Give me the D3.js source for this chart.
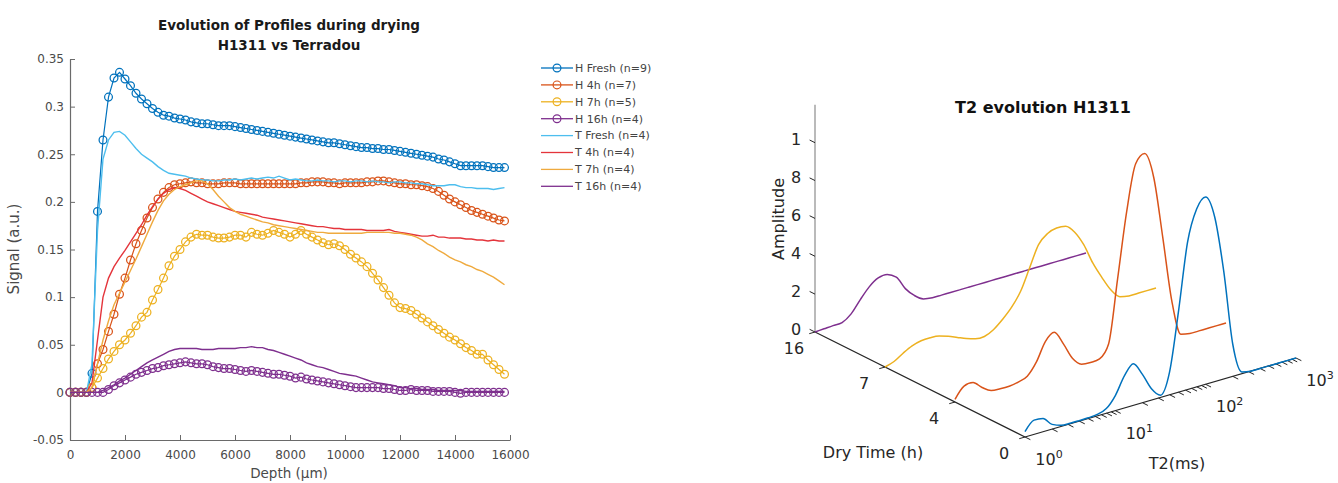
<!DOCTYPE html>
<html><head><meta charset="utf-8">
<script src="https://cdn.jsdelivr.net/npm/d3@7"></script>
<style>
body{margin:0;background:#fff;}
svg{display:block;}
text{font-family:"DejaVu Sans",sans-serif;}
</style>
</head><body>
<svg id="c" width="1338" height="483"></svg>
<script>
// ---------------- LEFT CHART DATA ----------------
const depth = [0,200,400,600,800,1000,1200,1400,1600,1800,2000,2200,2400,2600,2800,3000,3200,3400,3600,3800,
4000,4200,4400,4600,4800,5000,5200,5400,5600,5800,6000,6200,6400,6600,6800,7000,7200,7400,7600,7800,
8000,8200,8400,8600,8800,9000,9200,9400,9600,9800,10000,10200,10400,10600,10800,11000,11200,11400,11600,11800,
12000,12200,12400,12600,12800,13000,13200,13400,13600,13800,14000,14200,14400,14600,14800,15000,15200,15400,15600,15800];

const hFresh = [0,0,0,0,0.02,0.19,0.265,0.31,0.33,0.336,0.329,0.322,0.314,0.308,0.303,0.298,0.294,0.291,0.290,0.288,
0.287,0.286,0.284,0.283,0.282,0.282,0.281,0.280,0.280,0.280,0.279,0.278,0.277,0.276,0.275,0.274,0.273,0.272,0.271,0.270,
0.269,0.268,0.267,0.266,0.265,0.264,0.263,0.262,0.262,0.261,0.260,0.259,0.258,0.257,0.257,0.256,0.256,0.255,0.255,0.254,
0.253,0.252,0.251,0.250,0.249,0.248,0.247,0.245,0.244,0.242,0.240,0.238,0.238,0.238,0.238,0.238,0.237,0.236,0.236,0.236];

const h4h = [0,0,0,0,0.005,0.03,0.045,0.064,0.082,0.103,0.12,0.139,0.156,0.17,0.183,0.194,0.203,0.21,0.215,0.218,
0.219,0.220,0.221,0.220,0.220,0.219,0.219,0.219,0.220,0.220,0.220,0.219,0.219,0.219,0.219,0.219,0.219,0.219,0.219,0.219,
0.219,0.219,0.220,0.220,0.221,0.221,0.221,0.220,0.220,0.219,0.220,0.220,0.220,0.220,0.221,0.221,0.222,0.222,0.221,0.220,
0.219,0.219,0.218,0.218,0.217,0.216,0.214,0.211,0.207,0.203,0.200,0.197,0.194,0.191,0.189,0.187,0.185,0.183,0.181,0.180];

const h7h = [0,0,0,0,0.005,0.015,0.025,0.035,0.043,0.05,0.055,0.062,0.07,0.079,0.084,0.097,0.108,0.12,0.133,0.143,
0.150,0.158,0.163,0.166,0.165,0.165,0.163,0.162,0.162,0.163,0.165,0.165,0.163,0.168,0.166,0.165,0.167,0.170,0.168,0.166,
0.163,0.166,0.170,0.166,0.163,0.160,0.157,0.155,0.156,0.154,0.150,0.145,0.141,0.137,0.132,0.125,0.118,0.110,0.102,0.094,
0.089,0.088,0.086,0.082,0.078,0.074,0.070,0.066,0.062,0.058,0.055,0.051,0.047,0.044,0.040,0.040,0.034,0.029,0.024,0.019];

const h16h = [0,0,0,0,0,0,0,0.003,0.007,0.01,0.013,0.016,0.019,0.021,0.023,0.025,0.026,0.028,0.029,0.030,
0.031,0.032,0.031,0.030,0.030,0.029,0.027,0.026,0.025,0.025,0.024,0.023,0.022,0.023,0.022,0.021,0.020,0.019,0.019,0.018,
0.017,0.015,0.016,0.014,0.013,0.012,0.011,0.010,0.009,0.008,0.007,0.006,0.005,0.005,0.005,0.005,0.005,0.004,0.004,0.003,
0.002,0.002,0.003,0.002,0.002,0.002,0.001,0.001,0.001,0.001,0.000,-0.001,0.000,0,0,0,0,0,0,0];

const tFresh = [0,0,0,0,0.03,0.17,0.245,0.265,0.273,0.274,0.270,0.263,0.256,0.250,0.246,0.242,0.237,0.233,0.230,0.229,
0.228,0.227,0.225,0.224,0.223,0.223,0.222,0.222,0.223,0.223,0.224,0.223,0.224,0.225,0.224,0.225,0.226,0.225,0.227,0.225,
0.223,0.224,0.223,0.222,0.222,0.223,0.222,0.222,0.221,0.222,0.222,0.221,0.222,0.222,0.221,0.222,0.221,0.221,0.220,0.221,
0.221,0.220,0.220,0.219,0.219,0.218,0.217,0.217,0.217,0.218,0.218,0.216,0.215,0.215,0.214,0.214,0.214,0.213,0.214,0.215];

const t4h = [0,0,0,0,0.01,0.055,0.1,0.12,0.132,0.141,0.149,0.158,0.167,0.176,0.186,0.195,0.203,0.209,0.213,0.215,
0.214,0.212,0.209,0.206,0.203,0.200,0.198,0.196,0.194,0.192,0.190,0.189,0.188,0.187,0.186,0.184,0.183,0.182,0.181,0.180,
0.179,0.178,0.177,0.176,0.175,0.174,0.174,0.173,0.172,0.172,0.171,0.171,0.171,0.171,0.170,0.170,0.170,0.170,0.171,0.169,
0.168,0.167,0.166,0.165,0.164,0.164,0.165,0.163,0.163,0.162,0.162,0.162,0.161,0.161,0.160,0.160,0.159,0.160,0.159,0.159];

const t7h = [0,0,0,0,0.005,0.03,0.055,0.075,0.092,0.104,0.116,0.128,0.140,0.153,0.166,0.179,0.191,0.201,0.208,0.213,
0.216,0.218,0.220,0.222,0.222,0.219,0.213,0.206,0.200,0.194,0.190,0.187,0.185,0.183,0.181,0.179,0.178,0.176,0.175,0.174,
0.173,0.172,0.171,0.170,0.169,0.168,0.168,0.167,0.167,0.167,0.167,0.167,0.167,0.167,0.168,0.168,0.168,0.168,0.168,0.167,
0.167,0.166,0.165,0.163,0.160,0.156,0.153,0.149,0.146,0.142,0.139,0.137,0.134,0.132,0.129,0.127,0.124,0.121,0.117,0.113];

const t16h = [0,0,0,0,0,0,0.002,0.005,0.008,0.012,0.015,0.019,0.023,0.027,0.031,0.034,0.037,0.040,0.043,0.045,
0.046,0.046,0.046,0.046,0.045,0.045,0.045,0.046,0.046,0.046,0.046,0.047,0.047,0.048,0.047,0.047,0.045,0.044,0.042,0.040,
0.038,0.036,0.034,0.031,0.029,0.027,0.026,0.024,0.022,0.020,0.019,0.018,0.017,0.015,0.013,0.011,0.010,0.009,0.008,0.007,
0.005,0.005,0.004,0.004,0.003,0.003,0.003,0.002,0.002,0.002,0.002,0.002,0.001,0.001,0.001,0.001,0.001,0.001,0.001,0.001];

const seriesNames = ["H Fresh (n=9)","H 4h (n=7)","H 7h (n=5)","H 16h (n=4)","T Fresh (n=4)","T 4h (n=4)","T 7h (n=4)","T 16h (n=4)"];
const seriesColors = ["#0072BD","#D95319","#EDB120","#7E2F8E","#4DBEEE","#E4343B","#EFAA3E","#7E2F8E"];
const seriesValues = [hFresh,h4h,h7h,h16h,tFresh,t4h,t7h,t16h];
const seriesMarker = [true,true,true,true,false,false,false,false];

const xTicks = [0,2000,4000,6000,8000,10000,12000,14000,16000];
const xTickLabels = ["0","2000","4000","6000","8000","10000","12000","14000","16000"];
const yTicks = [-0.05,0,0.05,0.1,0.15,0.2,0.25,0.3,0.35];
const yTickLabels = ["-0.05","0","0.05","0.1","0.15","0.2","0.25","0.3","0.35"];

// ---------------- RIGHT CHART DATA ----------------
const t2ms = [1,1.259,1.585,1.995,2.512,3.162,3.981,5.012,6.310,7.943,10,12.59,15.85,19.95,25.12,31.62,39.81,50.12,63.10,79.43,
100,125.9,158.5,199.5,251.2,316.2,398.1,501.2,631.0,794.3,1000];
const dryTimes = ["0","4","7","16"];
const ampDry0 = [0.028,0.075,0.07,0.025,0.006,0.003,0.003,0.004,0.008,0.025,0.08,0.17,0.22,0.15,0.06,0.012,0.12,0.43,0.78,0.94,
0.99,0.87,0.57,0.17,0.01,0,0,0,0,0,0];
const ampDry4 = [0.014,0.07,0.075,0.035,0.005,0,0,0.008,0.025,0.085,0.18,0.215,0.14,0.05,0.005,0,0.005,0.07,0.40,0.74,
0.98,1.02,0.88,0.55,0.2,0.01,0,0,0,0,0];
const ampDry7 = [0,0.015,0.045,0.07,0.083,0.085,0.08,0.065,0.045,0.025,0.01,0.008,0.03,0.07,0.12,0.19,0.30,0.41,0.455,0.47,
0.465,0.42,0.34,0.23,0.14,0.06,0.01,0,0,0,0];
const ampDry16 = [0,0.003,0.006,0.008,0.04,0.1,0.155,0.188,0.193,0.165,0.09,0.04,0.008,0,0,0,0,0,0,0,
0,0,0,0,0,0,0,0,0,0,0];
const ampSeries = [ampDry0,ampDry4,ampDry7,ampDry16];
const ampColors = ["#0072BD","#D95319","#EDB120","#7E2F8E"];
const ampTicks = [0,0.2,0.4,0.6,0.8,1];
const ampTickLabels = ["0","2","4","6","8","1"];
const t2Major = [1,10,100,1000];
const t2MajorExp = ["0","1","2","3"];

// ---------------- DRAW LEFT ----------------
const svg = d3.select("#c");
const x = d3.scaleLinear().domain([0,16000]).range([70,510]);
const y = d3.scaleLinear().domain([-0.05,0.35]).range([440,59]);
const axCol = "#6a6a6a", txtCol = "#4a4a4a";

const gx = svg.append("g").attr("transform","translate(0,440)")
  .call(d3.axisBottom(x).tickValues(xTicks).tickFormat((d,i)=>xTickLabels[i]).tickSizeInner(-5).tickSizeOuter(0).tickPadding(10));
const gy = svg.append("g").attr("transform","translate(70,0)")
  .call(d3.axisLeft(y).tickValues(yTicks).tickFormat((d,i)=>yTickLabels[i]).tickSizeInner(-5).tickSizeOuter(0).tickPadding(6));
[gx,gy].forEach(g=>{
  g.select(".domain").attr("stroke",axCol).attr("stroke-width",1.2);
  g.selectAll(".tick line").attr("stroke",axCol);
  g.selectAll(".tick text").attr("fill",txtCol).style("font-size","12px").style("font-family","DejaVu Sans");
});

svg.append("text").attr("x",289).attr("y",30).attr("text-anchor","middle")
  .style("font-size","13.5px").style("font-weight","bold").attr("fill","#1a1a1a").text("Evolution of Profiles during drying");
svg.append("text").attr("x",289).attr("y",50).attr("text-anchor","middle")
  .style("font-size","13.5px").style("font-weight","bold").attr("fill","#1a1a1a").text("H1311 vs Terradou");
svg.append("text").attr("x",289).attr("y",478).attr("text-anchor","middle")
  .style("font-size","13.5px").attr("fill",txtCol).text("Depth (\u00b5m)");
svg.append("text").attr("transform","translate(19,249) rotate(-90)").attr("text-anchor","middle")
  .style("font-size","15px").attr("fill",txtCol).text("Signal (a.u.)");

const line2d = d3.line().x((d,i)=>x(depth[i])).y(d=>y(d));
seriesValues.forEach((vals,k)=>{
  svg.append("path").datum(vals).attr("d",line2d).attr("fill","none")
    .attr("stroke",seriesColors[k]).attr("stroke-width",seriesMarker[k]?1.2:1.4);
  if(seriesMarker[k]){
    svg.append("g").selectAll("circle").data(vals).join("circle")
      .attr("cx",(d,i)=>x(depth[i])).attr("cy",d=>y(d)).attr("r",3.9)
      .attr("fill","none").attr("stroke",seriesColors[k]).attr("stroke-width",1.25);
  }
});
// legend
const lg = svg.append("g");
seriesNames.forEach((nm,i)=>{
  const ly = 68 + i*16.9;
  lg.append("line").attr("x1",541).attr("x2",573).attr("y1",ly).attr("y2",ly)
    .attr("stroke",seriesColors[i]).attr("stroke-width",1.3);
  if(seriesMarker[i]) lg.append("circle").attr("cx",557).attr("cy",ly).attr("r",3.9)
    .attr("fill","none").attr("stroke",seriesColors[i]).attr("stroke-width",1.2);
  lg.append("text").attr("x",575).attr("y",ly).attr("dy","0.35em")
    .style("font-size","11px").attr("fill","#444").text(nm);
});

// ---------------- DRAW RIGHT (3D) ----------------
const u = d3.scaleLog().domain([1,1000]).range([0,1]);
const v = d3.scalePoint().domain(dryTimes).range([0,1]);
const zpx = d3.scaleLinear().domain([0,1]).range([0,189.3]);
const O = [1025,437], EX = [271,-79], EY = [-210,-105];
function P(t2, dt, a){
  const uu = u(t2), vv = v(dt);
  return [O[0]+uu*EX[0]+vv*EY[0], O[1]+uu*EX[1]+vv*EY[1]-zpx(a)];
}
const exN = [EX[0]/Math.hypot(...EX), EX[1]/Math.hypot(...EX)];
const eyN = [EY[0]/Math.hypot(...EY), EY[1]/Math.hypot(...EY)];
const dark = "#262626";
const g3 = svg.append("g");
// T2 axis
const a0 = P(1,"0",0), a1 = P(1000,"0",0);
g3.append("line").attr("x1",a0[0]).attr("y1",a0[1]).attr("x2",a1[0]).attr("y2",a1[1]).attr("stroke",dark).attr("stroke-width",1.2);
u.ticks().forEach(t=>{
  const p = P(t,"0",0);
  g3.append("line").attr("x1",p[0]).attr("y1",p[1]).attr("x2",p[0]-eyN[0]*6).attr("y2",p[1]-eyN[1]*6)
    .attr("stroke",dark).attr("stroke-width",1);
});
t2Major.forEach((t,i)=>{
  const p = P(t,"0",0);
  const tx = g3.append("text").attr("x",p[0]+24).attr("y",p[1]+28).attr("text-anchor","middle")
    .style("font-size","16px").attr("fill",dark);
  tx.append("tspan").text("10");
  tx.append("tspan").attr("dy","-7").style("font-size","11px").text(t2MajorExp[i]);
});
// Dry time axis
const b1 = P(1,"16",0);
g3.append("line").attr("x1",a0[0]).attr("y1",a0[1]).attr("x2",b1[0]).attr("y2",b1[1]).attr("stroke",dark).attr("stroke-width",1.2);
dryTimes.forEach(d=>{
  const p = P(1,d,0);
  g3.append("line").attr("x1",p[0]).attr("y1",p[1]).attr("x2",p[0]-exN[0]*6).attr("y2",p[1]-exN[1]*6)
    .attr("stroke",dark).attr("stroke-width",1);
  g3.append("text").attr("x",p[0]-21).attr("y",p[1]+16).attr("dy","0.35em").attr("text-anchor","middle")
    .style("font-size","16px").attr("fill",dark).text(d);
});
// Amplitude axis
const c1 = P(1,"16",1.2);
g3.append("line").attr("x1",b1[0]).attr("y1",b1[1]).attr("x2",c1[0]).attr("y2",c1[1]).attr("stroke","#8c8c8c").attr("stroke-width",1.2);
ampTicks.forEach((a,i)=>{
  const p = P(1,"16",a);
  g3.append("line").attr("x1",p[0]).attr("y1",p[1]).attr("x2",p[0]+eyN[0]*6).attr("y2",p[1]+eyN[1]*6)
    .attr("stroke",dark).attr("stroke-width",1);
  g3.append("text").attr("x",p[0]-19).attr("y",p[1]-3).attr("dy","0.35em").attr("text-anchor","middle")
    .style("font-size","16px").attr("fill",dark).text(ampTickLabels[i]);
});
// labels
svg.append("text").attr("x",1043).attr("y",113).attr("text-anchor","middle")
  .style("font-size","16px").style("font-weight","bold").attr("fill","#111").text("T2 evolution H1311");
svg.append("text").attr("transform","translate(784,219) rotate(-90)").attr("text-anchor","middle")
  .style("font-size","16px").attr("fill",dark).text("Amplitude");
svg.append("text").attr("x",873).attr("y",452).attr("dy","0.35em").attr("text-anchor","middle")
  .style("font-size","16px").attr("fill",dark).text("Dry Time (h)");
svg.append("text").attr("x",1177).attr("y",463).attr("dy","0.35em").attr("text-anchor","middle")
  .style("font-size","16px").attr("fill",dark).text("T2(ms)");

// curves back to front
const line3 = d3.line().x(d=>d[0]).y(d=>d[1]).curve(d3.curveMonotoneX);
[3,2,1,0].forEach(k=>{
  const pts = t2ms.map((t,i)=>P(t,dryTimes[k],ampSeries[k][i]));
  svg.append("path").attr("d",line3(pts)).attr("fill","none").attr("stroke",ampColors[k]).attr("stroke-width",1.5);
});
</script>
</body></html>
